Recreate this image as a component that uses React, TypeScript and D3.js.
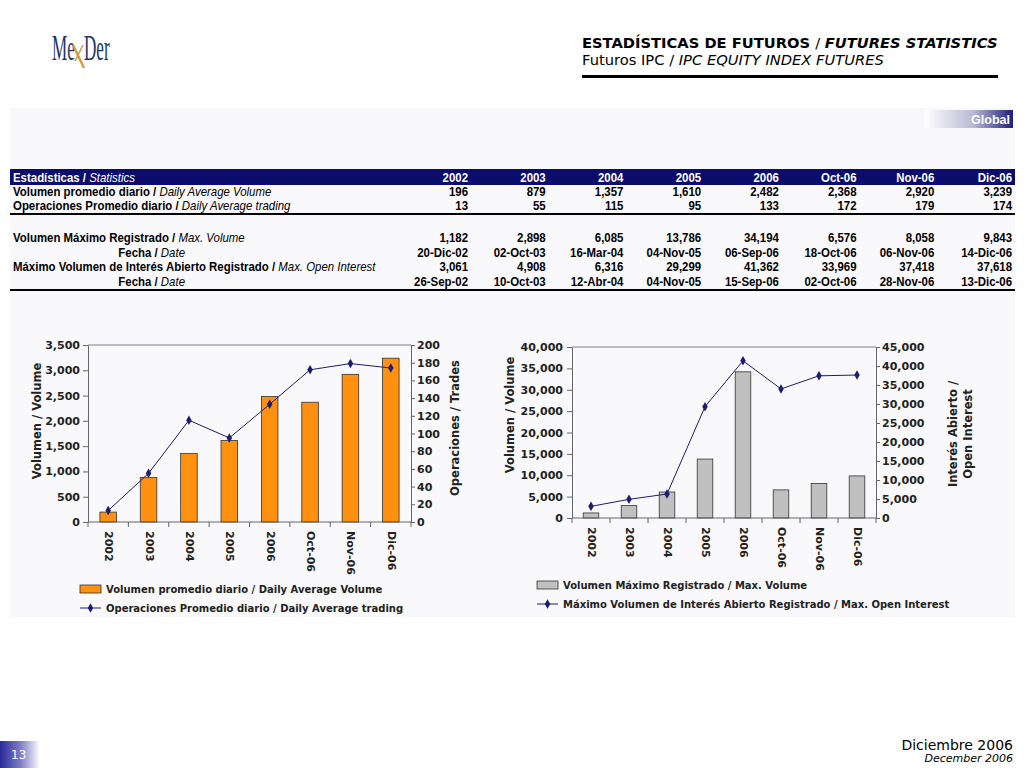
import * as d3 from "d3";
import React from "react";

const categories = ["2002", "2003", "2004", "2005", "2006", "Oct-06", "Nov-06", "Dic-06"];
const avgVolume = [196, 879, 1357, 1610, 2482, 2368, 2920, 3239];
const avgTrading = [13, 55, 115, 95, 133, 172, 179, 174];
const maxVolume = [1182, 2898, 6085, 13786, 34194, 6576, 8058, 9843];
const maxVolumeDate = ["20-Dic-02", "02-Oct-03", "16-Mar-04", "04-Nov-05", "06-Sep-06", "18-Oct-06", "06-Nov-06", "14-Dic-06"];
const maxOpenInterest = [3061, 4908, 6316, 29299, 41362, 33969, 37418, 37618];
const maxOpenInterestDate = ["26-Sep-02", "10-Oct-03", "12-Abr-04", "04-Nov-05", "15-Sep-06", "02-Oct-06", "28-Nov-06", "13-Dic-06"];

const volumeTicks = [0, 500, 1000, 1500, 2000, 2500, 3000, 3500];
const tradesTicks = [0, 20, 40, 60, 80, 100, 120, 140, 160, 180, 200];
const maxVolumeTicks = [0, 5000, 10000, 15000, 20000, 25000, 30000, 35000, 40000];
const openInterestTicks = [0, 5000, 10000, 15000, 20000, 25000, 30000, 35000, 40000, 45000];

const W = 1024;
const H = 768;
const chartFont = "Verdana, 'DejaVu Sans', sans-serif";
const tableFont = "'Liberation Sans Narrow', 'Arial Narrow', 'Liberation Sans', Arial, sans-serif";
const navy = "#0c0c6c";
const lineColor = "#1c1c72";
const fmt = d3.format(",");

type ComboOpts = {
  x0: number;
  x1: number;
  y0: number;
  y1: number;
  bars: number[];
  line: number[];
  leftTicks: number[];
  rightTicks: number[];
  barFill: string;
  leftPad: number;
  rightPad: number;
  labelTop: number;
};

const drawCombo = (svg: d3.Selection<SVGSVGElement, unknown, null, undefined>, o: ComboOpts) => {
  const g = svg.append("g").attr("font-family", chartFont);
  const x = d3.scaleBand<string>().domain(categories).range([o.x0, o.x1]).paddingInner(0.59).paddingOuter(0.295);
  const band = d3.scaleBand<string>().domain(categories).range([o.x0, o.x1]);
  const yL = d3.scaleLinear().domain([0, d3.max(o.leftTicks) as number]).range([o.y1, o.y0]);
  const yR = d3.scaleLinear().domain([0, d3.max(o.rightTicks) as number]).range([o.y1, o.y0]);

  // top of plot frame
  g.append("line").attr("x1", o.x0).attr("x2", o.x1).attr("y1", o.y0).attr("y2", o.y0).attr("stroke", "#808080");

  // bars
  g.append("g")
    .selectAll("rect")
    .data(o.bars)
    .join("rect")
    .attr("x", (_d, i) => x(categories[i]) as number)
    .attr("y", (d) => yL(d))
    .attr("width", x.bandwidth())
    .attr("height", (d) => o.y1 - yL(d))
    .attr("fill", o.barFill)
    .attr("stroke", "#333")
    .attr("stroke-width", 0.8);

  const la = g.append("g").attr("transform", `translate(${o.x0},0)`)
    .call(d3.axisLeft(yL).tickValues(o.leftTicks).tickFormat((d) => fmt(d as number)).tickSize(5).tickSizeOuter(0).tickPadding(o.leftPad));
  const ra = g.append("g").attr("transform", `translate(${o.x1},0)`)
    .call(d3.axisRight(yR).tickValues(o.rightTicks).tickFormat((d) => fmt(d as number)).tickSize(4).tickSizeOuter(0).tickPadding(o.rightPad));
  [la, ra].forEach((a) => {
    a.selectAll("path,line").attr("stroke", "#666");
    a.selectAll("text").attr("font-family", chartFont).attr("font-size", 11).attr("font-weight", "bold").attr("fill", "#222");
  });

  // base line + category ticks
  g.append("line").attr("x1", o.x0).attr("x2", o.x1).attr("y1", o.y1).attr("y2", o.y1).attr("stroke", "#666");
  g.append("g")
    .selectAll("line")
    .data(categories.concat(["end"]))
    .join("line")
    .attr("x1", (_d, i) => o.x0 + band.step() * i)
    .attr("x2", (_d, i) => o.x0 + band.step() * i)
    .attr("y1", o.y1)
    .attr("y2", o.y1 + 5)
    .attr("stroke", "#666");

  g.append("g")
    .selectAll("text")
    .data(categories)
    .join("text")
    .attr("transform", (d) => `translate(${(band(d) as number) + band.bandwidth() / 2},${o.labelTop}) rotate(90)`)
    .attr("dominant-baseline", "middle")
    .attr("font-size", 11)
    .attr("font-weight", "bold")
    .attr("fill", "#222")
    .text((d) => d);

  // line series on the right axis
  const pts = o.line.map((v, i) => [(band(categories[i]) as number) + band.bandwidth() / 2, yR(v)] as [number, number]);
  g.append("path")
    .attr("d", d3.line()(pts))
    .attr("fill", "none")
    .attr("stroke", lineColor)
    .attr("stroke-width", 1);
  g.append("g")
    .selectAll("path")
    .data(pts)
    .join("path")
    .attr("transform", (d) => `translate(${d[0]},${d[1]})`)
    .attr("d", d3.symbol(d3.symbolDiamond, 26)() as string)
    .attr("fill", lineColor);
};

const rowsEs = [
  "Volumen promedio diario / ",
  "Operaciones Promedio diario / ",
  "Volumen Máximo Registrado / ",
  "Fecha / ",
  "Máximo Volumen de Interés Abierto Registrado / ",
  "Fecha / ",
];
const rowsEn = ["Daily Average Volume", "Daily Average trading", "Max. Volume", "Date", "Max. Open Interest", "Date"];

export default function App() {
  const ref = React.useRef<SVGSVGElement | null>(null);

  React.useEffect(() => {
    if (!ref.current) return;
    const svg = d3.select(ref.current);
    svg.selectAll("*").remove();

    const defs = svg.append("defs");
    const gl = defs.append("linearGradient").attr("id", "globalGrad").attr("x1", 0).attr("x2", 1);
    gl.append("stop").attr("offset", "0%").attr("stop-color", "#ffffff");
    gl.append("stop").attr("offset", "55%").attr("stop-color", "#b8b8d4");
    gl.append("stop").attr("offset", "100%").attr("stop-color", "#20207e");
    const pg = defs.append("linearGradient").attr("id", "pageGrad").attr("x1", 0).attr("x2", 1);
    pg.append("stop").attr("offset", "0%").attr("stop-color", "#2a2a9a");
    pg.append("stop").attr("offset", "50%").attr("stop-color", "#7a7ac4");
    pg.append("stop").attr("offset", "100%").attr("stop-color", "#ffffff");

    svg.append("rect").attr("width", W).attr("height", H).attr("fill", "#fff");
    svg.append("rect").attr("x", 10).attr("y", 108).attr("width", 1005).attr("height", 509).attr("fill", "#f9f9fb");

    // logo: "Me" + gold X strokes + "Der", tall condensed serif
    const logoText = (x: number, txt: string) =>
      svg.append("text").attr("transform", `translate(${x},60) scale(0.95,2)`).attr("font-family", "'Liberation Serif', serif")
        .attr("font-size", 18).attr("fill", "#1b3768").text(txt);
    logoText(52, "Me");
    logoText(84, "Der");
    svg.append("path").attr("d", "M73,45 L84,68").attr("stroke", "#d19a45").attr("stroke-width", 2.4).attr("fill", "none");
    svg.append("path").attr("d", "M83,45 L75,61").attr("stroke", "#d19a45").attr("stroke-width", 1.6).attr("fill", "none");

    // title
    const t1 = svg.append("text").attr("x", 582).attr("y", 48).attr("font-family", chartFont).attr("font-size", 14.7).attr("font-weight", "bold").attr("fill", "#000");
    t1.append("tspan").text("ESTADÍSTICAS DE FUTUROS ");
    t1.append("tspan").attr("font-weight", "normal").text("/ ");
    t1.append("tspan").attr("font-style", "italic").text("FUTURES STATISTICS");
    const t2 = svg.append("text").attr("x", 582).attr("y", 65).attr("font-family", chartFont).attr("font-size", 14.7).attr("fill", "#000");
    t2.append("tspan").text("Futuros IPC / ");
    t2.append("tspan").attr("font-style", "italic").text("IPC EQUITY INDEX FUTURES");
    svg.append("rect").attr("x", 582).attr("y", 75).attr("width", 416).attr("height", 3).attr("fill", "#000");

    // Global tag
    svg.append("rect").attr("x", 925).attr("y", 110).attr("width", 88).attr("height", 18).attr("fill", "url(#globalGrad)");
    svg.append("text").attr("x", 1010).attr("y", 123.5).attr("text-anchor", "end").attr("font-family", "'Liberation Sans', Arial, sans-serif")
      .attr("font-weight", "bold").attr("font-size", 12.5).attr("fill", "#fff").text("Global");

    // table (narrowed Liberation Sans standing in for Arial Narrow)
    const col = d3.scalePoint<string>().domain(categories).range([468, 1012]);
    const narrow = 0.93;
    const tb = svg.append("g").attr("font-family", tableFont).attr("font-size", 12.3);
    const cell = (x: number, y: number, anchor: string) =>
      tb.append("text").attr("transform", `translate(${x},${y}) scale(${narrow},1)`).attr("text-anchor", anchor);

    tb.append("rect").attr("x", 10).attr("y", 169).attr("width", 1005).attr("height", 16).attr("fill", navy);
    const hdr = cell(13, 181.5, "start").attr("fill", "#fff").attr("font-weight", "bold");
    hdr.append("tspan").text("Estadísticas / ");
    hdr.append("tspan").attr("font-weight", "normal").attr("font-style", "italic").text("Statistics");
    categories.forEach((c) => {
      cell(col(c) as number, 181.5, "end").attr("fill", "#fff").attr("font-weight", "bold").text(c);
    });

    const rowY = [196, 210, 242, 256.5, 271, 285.5];
    const rowVals: string[][] = [
      avgVolume.map(fmt),
      avgTrading.map(fmt),
      maxVolume.map(fmt),
      maxVolumeDate,
      maxOpenInterest.map(fmt),
      maxOpenInterestDate,
    ];
    rowsEs.forEach((es, r) => {
      const isDate = r === 3 || r === 5;
      const lt = cell(isDate ? 185 : 13, rowY[r], isDate ? "end" : "start").attr("fill", "#000").attr("font-weight", "bold");
      lt.append("tspan").text(es);
      lt.append("tspan").attr("font-weight", "normal").attr("font-style", "italic").text(rowsEn[r]);
      rowVals[r].forEach((v, i) => {
        cell(col(categories[i]) as number, rowY[r], "end").attr("font-weight", "bold").attr("fill", "#000").text(v);
      });
    });
    tb.append("rect").attr("x", 10).attr("y", 213).attr("width", 1005).attr("height", 2).attr("fill", "#000");
    tb.append("rect").attr("x", 10).attr("y", 289).attr("width", 1005).attr("height", 2).attr("fill", "#000");

    // charts
    drawCombo(svg, {
      x0: 88, x1: 411, y0: 345, y1: 522,
      bars: avgVolume, line: avgTrading,
      leftTicks: volumeTicks, rightTicks: tradesTicks,
      barFill: "#ff9010", leftPad: 3, rightPad: 2, labelTop: 531,
    });
    drawCombo(svg, {
      x0: 572, x1: 876, y0: 347, y1: 518,
      bars: maxVolume, line: maxOpenInterest,
      leftTicks: maxVolumeTicks, rightTicks: openInterestTicks,
      barFill: "#c0c0c0", leftPad: 4, rightPad: 2, labelTop: 527,
    });

    const axTitle = (x: number, y: number, txt: string) =>
      svg.append("text").attr("transform", `translate(${x},${y}) rotate(-90)`).attr("text-anchor", "middle")
        .attr("font-family", chartFont).attr("font-size", 11.5).attr("font-weight", "bold").attr("fill", "#222").text(txt);
    axTitle(41, 421, "Volumen / Volume");
    axTitle(459, 428, "Operaciones / Trades");
    axTitle(514, 415, "Volumen / Volume");
    axTitle(957, 434, "Interés Abierto /");
    axTitle(972, 434, "Open Interest");

    const legend = (x: number, y: number, barFill: string, barLabel: string, lineLabel: string) => {
      const lg = svg.append("g").attr("font-family", chartFont).attr("font-size", 10).attr("font-weight", "bold").attr("fill", "#222");
      lg.append("rect").attr("x", x).attr("y", y - 4).attr("width", 21).attr("height", 8).attr("fill", barFill).attr("stroke", "#333").attr("stroke-width", 0.8);
      lg.append("text").attr("x", x + 26).attr("y", y + 4).text(barLabel);
      lg.append("line").attr("x1", x).attr("x2", x + 21).attr("y1", y + 19).attr("y2", y + 19).attr("stroke", lineColor);
      lg.append("path").attr("transform", `translate(${x + 10.5},${y + 19})`).attr("d", d3.symbol(d3.symbolDiamond, 26)() as string).attr("fill", lineColor);
      lg.append("text").attr("x", x + 26).attr("y", y + 23).text(lineLabel);
    };
    legend(80, 589, "#ff9010", "Volumen promedio diario / Daily Average Volume", "Operaciones Promedio diario / Daily Average trading");
    legend(537, 585, "#c0c0c0", "Volumen Máximo Registrado / Max. Volume", "Máximo Volumen de Interés Abierto Registrado / Max. Open Interest");

    // footer
    svg.append("rect").attr("x", 0).attr("y", 741).attr("width", 40).attr("height", 27).attr("fill", "url(#pageGrad)");
    svg.append("text").attr("x", 11).attr("y", 759).attr("font-family", "Tahoma, 'DejaVu Sans', sans-serif").attr("font-size", 12).attr("fill", "#fff").text("13");
    svg.append("text").attr("x", 1013).attr("y", 750).attr("text-anchor", "end").attr("font-family", "Tahoma, 'DejaVu Sans', sans-serif").attr("font-size", 14).attr("fill", "#000").text("Diciembre 2006");
    svg.append("text").attr("x", 1013).attr("y", 762).attr("text-anchor", "end").attr("font-family", "Tahoma, 'DejaVu Sans', sans-serif").attr("font-size", 11).attr("font-style", "italic").attr("fill", "#000").text("December 2006");
  }, []);

  return (
    <div>
      <svg ref={ref} width={W} height={H} style={{ position: "absolute", left: 0, top: 0 }}></svg>
    </div>
  );
}
